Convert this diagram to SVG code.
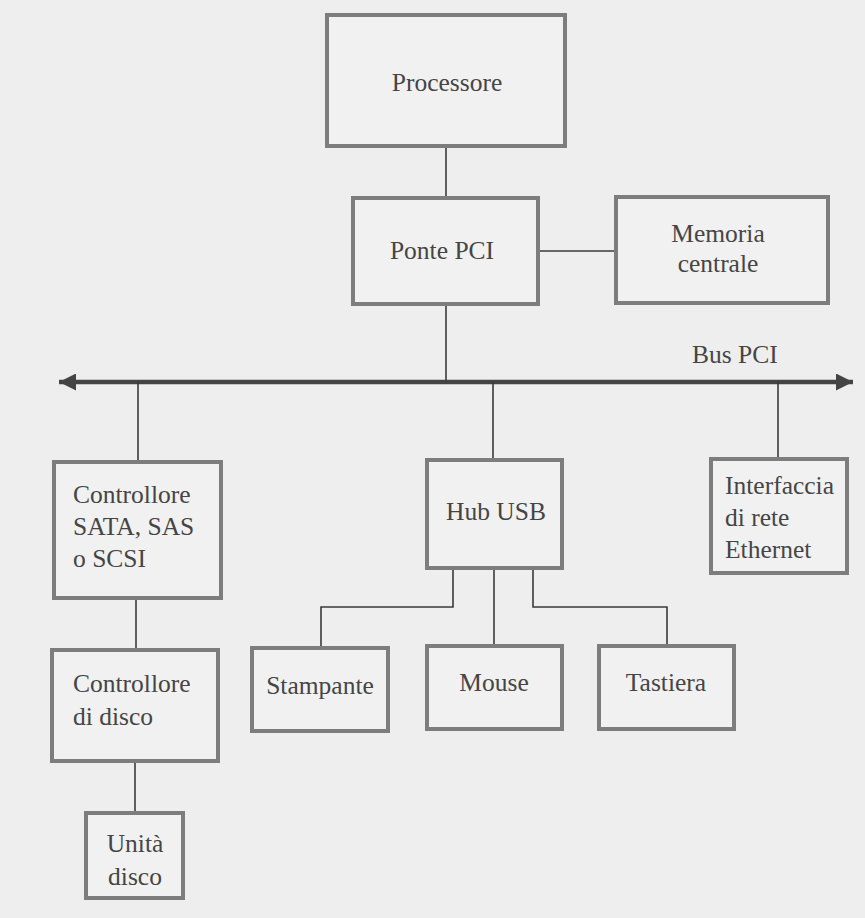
<svg xmlns="http://www.w3.org/2000/svg" width="865" height="918" viewBox="0 0 865 918">
<defs>
<style>
.box{fill:#f1f1f1;stroke:#7d7d7d;stroke-width:4}
.ln{fill:none;stroke:#3a3a3a;stroke-width:1.6}
.bus{fill:none;stroke:#444;stroke-width:4.5}
.t{font-family:"Liberation Serif","Times New Roman",serif;font-size:25.5px;fill:#454545}
.c{text-anchor:middle}
</style>
<marker id="ah" viewBox="0 0 10 10" refX="10" refY="5" markerUnits="userSpaceOnUse" markerWidth="32" markerHeight="17" orient="auto-start-reverse">
<path d="M0,0 L10,5 L0,10 Z" fill="#444"/>
</marker>
</defs>
<rect width="865" height="918" fill="#eeeeee"/>
<g id="connectors">
<path class="bus" d="M59,382 H853" marker-start="url(#ah)" marker-end="url(#ah)"/>
<path class="ln" d="M446,146 V198"/>
<path class="ln" d="M538,251 H616"/>
<path class="ln" d="M446,304 V382"/>
<path class="ln" d="M138,382 V462"/>
<path class="ln" d="M493,382 V460"/>
<path class="ln" d="M778,382 V459"/>
<path class="ln" d="M136,598 V650"/>
<path class="ln" d="M135,761 V813"/>
<path class="ln" d="M453,568 V607 H321 V648"/>
<path class="ln" d="M494,568 V646"/>
<path class="ln" d="M533,568 V607 H667 V646"/>
</g>
<g id="processore"><rect class="box" x="327" y="15" width="238" height="131"/><text class="t c" x="447" y="91">Processore</text></g>
<g id="ponte-pci"><rect class="box" x="353" y="198" width="185" height="106"/><text class="t c" x="442" y="259">Ponte PCI</text></g>
<g id="memoria-centrale"><rect class="box" x="616" y="197" width="212" height="106"/><text class="t c" x="718" y="242">Memoria</text><text class="t c" x="718" y="272">centrale</text></g>
<g id="bus-pci-label"><text class="t" x="692" y="363">Bus PCI</text></g>
<g id="controllore-sata"><rect class="box" x="54" y="462" width="167" height="136"/><text class="t" x="73" y="503">Controllore</text><text class="t" x="73" y="535">SATA, SAS</text><text class="t" x="73" y="567">o SCSI</text></g>
<g id="hub-usb"><rect class="box" x="427" y="460" width="135" height="108"/><text class="t c" x="496" y="520">Hub USB</text></g>
<g id="interfaccia-ethernet"><rect class="box" x="711" y="459" width="136" height="114"/><text class="t" x="725" y="494">Interfaccia</text><text class="t" x="725" y="526">di rete</text><text class="t" x="725" y="558">Ethernet</text></g>
<g id="controllore-disco"><rect class="box" x="52" y="650" width="166" height="111"/><text class="t" x="73" y="692">Controllore</text><text class="t" x="73" y="725">di disco</text></g>
<g id="stampante"><rect class="box" x="252" y="648" width="136" height="83"/><text class="t c" x="320" y="694">Stampante</text></g>
<g id="mouse"><rect class="box" x="427" y="646" width="135" height="83"/><text class="t c" x="494" y="691">Mouse</text></g>
<g id="tastiera"><rect class="box" x="599" y="646" width="135" height="83"/><text class="t c" x="666" y="691">Tastiera</text></g>
<g id="unita-disco"><rect class="box" x="86" y="813" width="97" height="85"/><text class="t c" x="135" y="852">Unità</text><text class="t c" x="135" y="885">disco</text></g>
</svg>
